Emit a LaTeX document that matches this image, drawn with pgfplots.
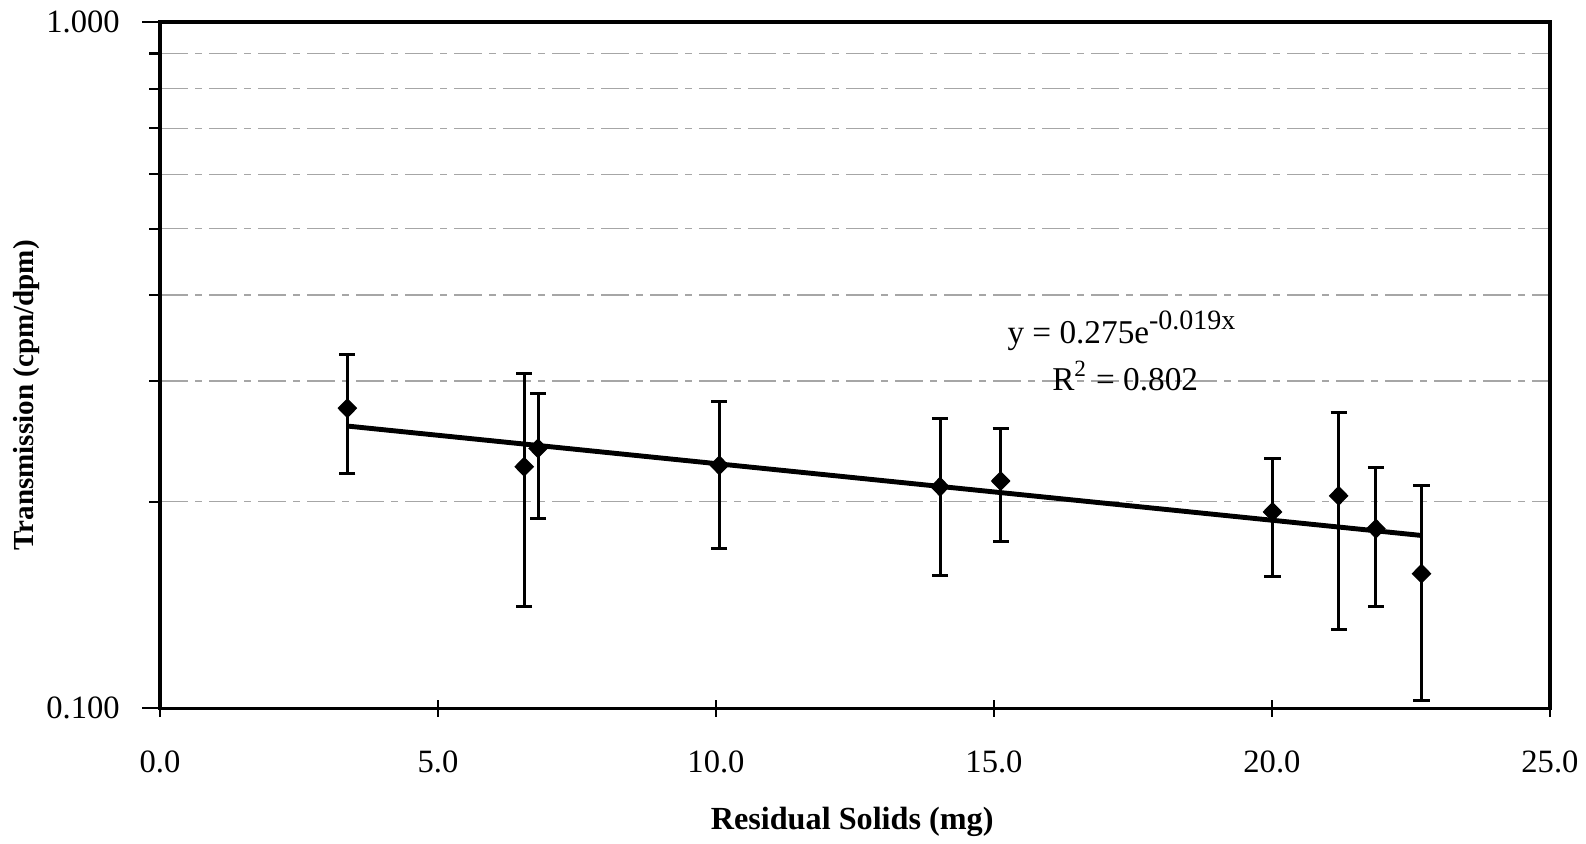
\documentclass[border=0pt]{standalone}
\usepackage{fontspec}
\setmainfont{Liberation Serif}
\usepackage{pgfplots}
\pgfplotsset{compat=1.18}
\usetikzlibrary{calc}

\begin{document}
\begin{tikzpicture}
\begin{axis}[
    name=ax,
    scale only axis,
    width=397pt, height=196pt,
    ymode=log,
    xmin=0, xmax=25,
    ymin=0.1, ymax=1,
    xtick={0,5,10,15,20,25},
    xticklabels={0.0,5.0,10.0,15.0,20.0,25.0},
    ytick={0.1,1},
    yticklabels={0.100,1.000},
    minor ytick={0.2,0.3,0.4,0.5,0.6,0.7,0.8,0.9},
    yminorgrids,
    minor grid style={gray!70, line width=0.4pt, dash pattern=on 8pt off 2pt on 2pt off 2pt},
    axis line style={line width=0.9pt},
    tick style={black, line width=0.6pt},
    tick pos=left,
    xtick align=center,
    ytick align=outside,
    major tick length=5pt,
    minor tick length=3pt,
    /pgf/number format/assume math mode=true,
    ticklabel style={font=\fontsize{9.3}{11}\selectfont},
    xticklabel style={yshift=-6pt},
    yticklabel style={xshift=-3pt},
    xlabel={\textbf{Residual Solids (mg)}},
    ylabel={\textbf{Transmission (cpm/dpm)}},
    x label style={font=\fontsize{9.2}{11}\selectfont, at={(axis description cs:0.498,-0.166)}, anchor=center},
    y label style={font=\fontsize{8.3}{10}\selectfont, at={(axis description cs:-0.096,0.456)}, anchor=center},
    clip=false,
]
% fitted exponential trendline (straight on log axis)
\addplot[black, line width=1.4pt] coordinates {(3.37,0.2578) (22.69,0.1786)};

% measurements with error bars
\addplot[
    only marks,
    mark=diamond*,
    mark size=2.6pt,
    mark options={fill=black, draw=black, xscale=1.3},
    error bars/.cd,
        y dir=both, y explicit,
        error bar style={line width=0.85pt, black},
        error mark options={rotate=90, mark size=2.3pt, line width=0.85pt},
] coordinates {
    (3.37,0.2737)  += (0,0.0539) -= (0,0.0535)
    (6.55,0.2249)  += (0,0.0824) -= (0,0.0842)
    (6.80,0.2392)  += (0,0.0481) -= (0,0.0500)
    (10.06,0.2260) += (0,0.0540) -= (0,0.0549)
    (14.03,0.2103) += (0,0.0537) -= (0,0.0543)
    (15.12,0.2144) += (0,0.0414) -= (0,0.0395)
    (20.01,0.1933) += (0,0.0381) -= (0,0.0378)
    (21.20,0.2040) += (0,0.0655) -= (0,0.0738)
    (21.87,0.1827) += (0,0.0419) -= (0,0.0421)
    (22.69,0.1571) += (0,0.0540) -= (0,0.0544)
};

\node[font=\fontsize{9.5}{11}\selectfont] at (axis cs:17.31,0.355) {y = 0.275e\textsuperscript{\fontsize{8}{9}\selectfont -0.019x}};
\node[font=\fontsize{9.5}{11}\selectfont] at (axis cs:17.36,0.305) {R\textsuperscript{2} = 0.802};
\end{axis}
\pgfresetboundingbox
\useasboundingbox ($(ax.south west)+(-45.7pt,-38.6pt)$) rectangle ($(ax.north east)+(10.3pt,6.3pt)$);
\end{tikzpicture}
\end{document}
